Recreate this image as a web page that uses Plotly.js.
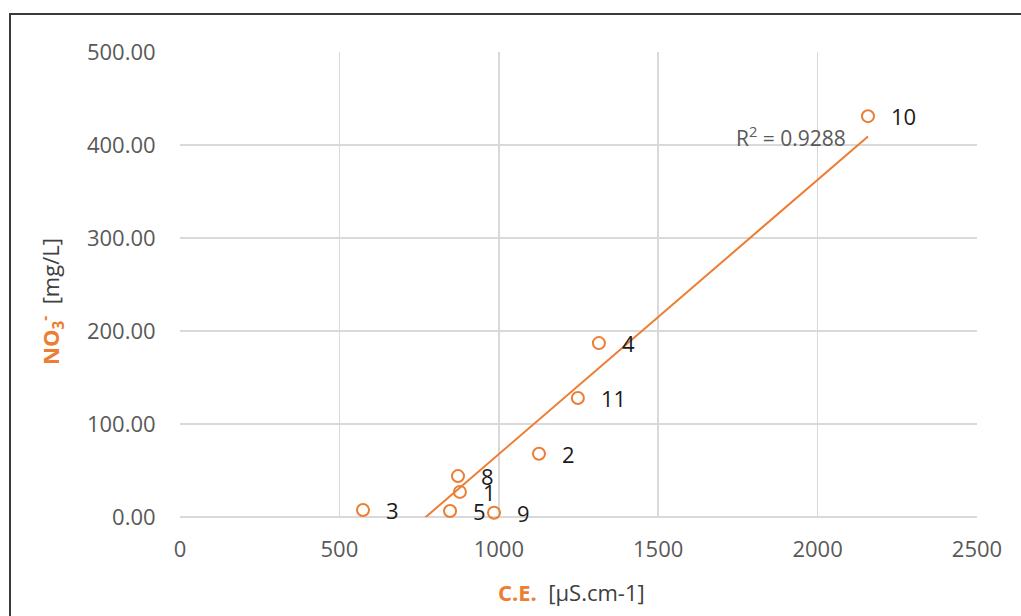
<!DOCTYPE html>
<html>
<head>
<meta charset="utf-8">
<script src="https://cdn.plot.ly/plotly-3.0.1.min.js"></script>
<style>
  html, body { margin: 0; padding: 0; background: #fff; }
  #wrap { position: relative; width: 1021px; height: 616px; overflow: hidden; }
  #chart { position: absolute; left: 0; top: 0; width: 1021px; height: 616px; }
  #frame { position: absolute; left: 9px; top: 13px; width: 1100px; height: 700px;
           border-left: 2px solid #3a3a3a; border-top: 2px solid #3a3a3a; pointer-events: none; z-index: 5; }
</style>
</head>
<body>
<div id="wrap">
  <div id="chart"></div>
  <div id="frame"></div>
</div>
<script>
// Data
const sampleLabels = ["1", "2", "3", "4", "5", "8", "9", "10", "11"];
const ceValues     = [878, 1126, 574, 1314, 847, 872, 985, 2158, 1248];   // C.E. [µS.cm-1]
const no3Values    = [27, 68, 7.5, 187, 6.5, 44, 4.5, 431, 128];          // NO3- [mg/L]
const r2Text = "R<sup>2</sup> = 0.9288";
const xTitle = '<span style="color:#ED7D31;font-weight:bold">C.E.</span>\u00a0\u00a0[µS.cm-1]';
const yTitle = '<span style="color:#ED7D31;font-weight:bold">NO<sub>3</sub><sup>-</sup></span>\u00a0\u00a0[mg/L]';
const xTickVals = [0, 500, 1000, 1500, 2000, 2500];
const yTickVals = [0, 100, 200, 300, 400, 500];

const orange = "#ED7D31";
const font = "Open Sans, Liberation Sans, Arial, sans-serif";

// Linear least-squares trendline computed from the data
const n = ceValues.length;
const mx = ceValues.reduce((a, b) => a + b, 0) / n;
const my = no3Values.reduce((a, b) => a + b, 0) / n;
let sxy = 0, sxx = 0;
for (let i = 0; i < n; i++) {
  sxy += (ceValues[i] - mx) * (no3Values[i] - my);
  sxx += (ceValues[i] - mx) * (ceValues[i] - mx);
}
const slope = sxy / sxx;
const intercept = my - slope * mx;
const xmin = Math.min(...ceValues), xmax = Math.max(...ceValues);
const trendX = [xmin, xmax];
const trendY = trendX.map(x => slope * x + intercept);

const traces = [
  {
    x: trendX, y: trendY, mode: "lines", type: "scatter",
    line: { color: orange, width: 2 }, hoverinfo: "skip", showlegend: false
  },
  {
    x: ceValues, y: no3Values, mode: "markers", type: "scatter",
    marker: { symbol: "circle-open", size: 12, color: orange, line: { width: 2, color: orange } },
    showlegend: false, cliponaxis: false
  }
];

const annotations = sampleLabels.map((lab, i) => ({
  x: ceValues[i], y: no3Values[i], xref: "x", yref: "y",
  text: lab, showarrow: false, xanchor: "left", yanchor: "middle",
  xshift: 21, yshift: 0,
  font: { family: font, size: 22, color: "#1a1a1a" }
}));
annotations.push({
  x: xmax, y: slope * xmax + intercept, xref: "x", yref: "y",
  text: r2Text, showarrow: false, xanchor: "right", yanchor: "middle",
  xshift: -20, yshift: 0,
  font: { family: font, size: 21, color: "#595959" }
});
// Axis titles
annotations.push({
  x: 0.4906, y: -0.1613, xref: "paper", yref: "paper",
  text: xTitle, showarrow: false, xanchor: "center", yanchor: "middle",
  font: { family: font, size: 22, color: "#404040" }
});
annotations.push({
  x: -0.1619, y: 0.4645, xref: "paper", yref: "paper",
  text: yTitle, showarrow: false, xanchor: "center", yanchor: "middle", textangle: -90,
  font: { family: font, size: 22, color: "#404040" }
});

const layout = {
  width: 1021, height: 616,
  paper_bgcolor: "#ffffff", plot_bgcolor: "#ffffff",
  margin: { l: 180, r: 44, t: 52, b: 99 },
  showlegend: false,
  font: { family: font, color: "#595959" },
  xaxis: {
    range: [0, 2500], tickvals: xTickVals, ticktext: xTickVals.map(String),
    showgrid: true, gridcolor: "#d9d9d9", gridwidth: 1.5,
    zeroline: false, showline: false,
    ticks: "outside", ticklen: 13, tickcolor: "rgba(0,0,0,0)",
    tickfont: { family: font, size: 22, color: "#595959" }
  },
  yaxis: {
    range: [0, 500], tickvals: yTickVals, ticktext: yTickVals.map(v => v.toFixed(2)),
    showgrid: true, gridcolor: "#d9d9d9", gridwidth: 1.5,
    zeroline: true, zerolinecolor: "#d9d9d9", zerolinewidth: 1.5, showline: false,
    ticks: "outside", ticklen: 19, tickcolor: "rgba(0,0,0,0)",
    tickfont: { family: font, size: 22, color: "#595959" }
  },
  annotations: annotations
};

Plotly.newPlot("chart", traces, layout, { staticPlot: true, displayModeBar: false });
</script>
</body>
</html>
